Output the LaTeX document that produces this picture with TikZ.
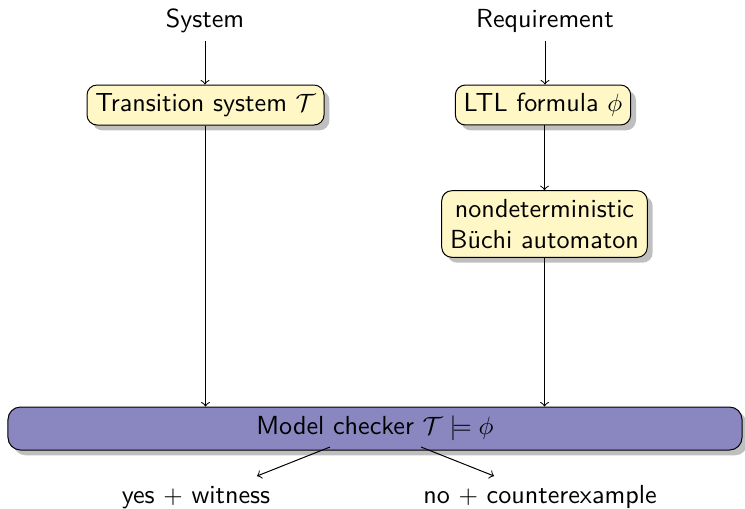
\documentclass[tikz,border=0pt]{standalone}
\usetikzlibrary{shadows}
\definecolor{boxyellow}{RGB}{255,248,198}
\definecolor{checkerpurple}{RGB}{138,134,192}
\begin{document}
\begin{tikzpicture}[x=0.4pt,y=-0.4pt,font=\sffamily\fontsize{10.45}{12.6}\selectfont,
  stagebox/.style={draw, rounded corners=4pt, fill=boxyellow, drop shadow, align=center},
  checkerbox/.style={draw, rounded corners=5pt, fill=checkerpurple, drop shadow,
    minimum width=293.6pt, minimum height=17.2pt},
  flow/.style={->}]
\useasboundingbox (0,0) rectangle (745,508);

% inputs
\node[anchor=base] (sys) at (205,27) {System};
\node[anchor=base] (req) at (545,27) {Requirement};

% intermediate representations
\node[stagebox] (ts) at (205.5,105) {Transition system $\mathcal{T}$};
\node[stagebox] (ltl) at (543,105) {LTL formula $\phi$};
\node[stagebox] (nba) at (544.5,224) {nondeterministic\\B\"uchi automaton};

% model checker
\node[checkerbox] (mc) at (375,428.5) {Model checker $\mathcal{T} \models \phi$};

% outcomes
\node[anchor=base] (yes) at (196,503) {yes $+$ witness};
\node[anchor=base] (no) at (540,503) {no $+$ counterexample};

\coordinate (yesfrom) at (330,447);
\coordinate (yesto) at (257,476);
\coordinate (nofrom) at (421,447);
\coordinate (noto) at (494,476);

% connectors
\draw[flow] (sys.south) -- (sys.south |- ts.north);
\draw[flow] (req.south) -- (req.south |- ltl.north);
\draw[flow] (ltl.south -| nba.north) -- (nba.north);
\draw[flow] (ts.south) -- (ts.south |- mc.north);
\draw[flow] (nba.south) -- (nba.south |- mc.north);
\draw[flow] (yesfrom) -- (yesto);
\draw[flow] (nofrom) -- (noto);
\end{tikzpicture}
\end{document}
